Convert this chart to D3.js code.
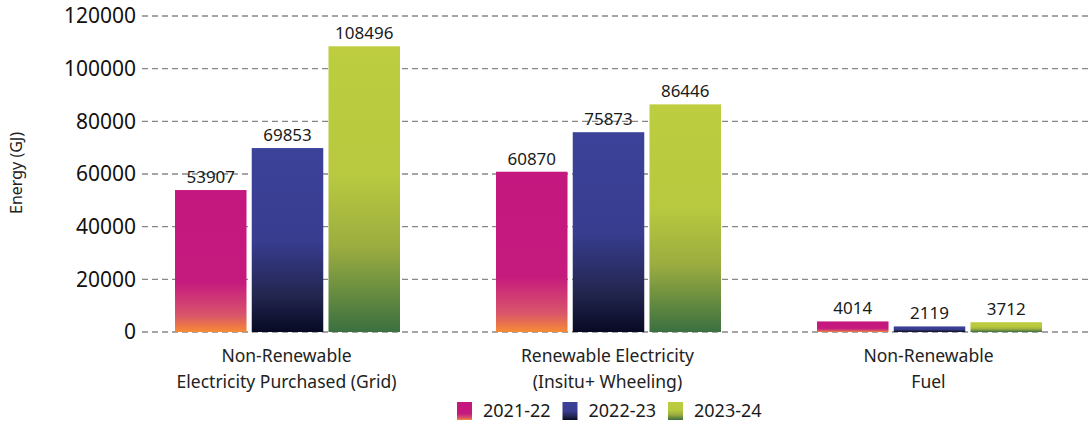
<!DOCTYPE html>
<html>
<head>
<meta charset="utf-8">
<script src="https://cdn.jsdelivr.net/npm/d3@7"></script>
<style>
  body { margin: 0; background: #fff; }
  svg { display: block; font-family: "Noto Sans", sans-serif; }
</style>
</head>
<body>
<div id="chart"></div>
<script>
// data
const categories = [
  "Non-Renewable\nElectricity Purchased (Grid)",
  "Renewable Electricity\n(Insitu+ Wheeling)",
  "Non-Renewable\nFuel"
]
const years = ["2021-22", "2022-23", "2023-24"]
const values2122 = [53907, 60870, 4014]
const values2223 = [69853, 75873, 2119]
const values2324 = [108496, 86446, 3712]
const yTicks = [0, 20000, 40000, 60000, 80000, 100000, 120000]

const series = [values2122, values2223, values2324]

// gradients per year (top -> bottom)
const gradStops = [
  [[0, "#c4177f"], [0.65, "#c51a7e"], [0.88, "#d9546b"], [1, "#f68b35"]],
  [[0, "#3c4299"], [0.5, "#383d90"], [0.8, "#23264f"], [1, "#070924"]],
  [[0, "#bdcd3f"], [0.45, "#b8c940"], [0.7, "#9cad40"], [1, "#3b7040"]]
]

const width = 1092, height = 425
const svg = d3.select("#chart").append("svg")
    .attr("width", width)
    .attr("height", height)

const defs = svg.append("defs")
gradStops.forEach((stops, i) => {
  const g = defs.append("linearGradient")
      .attr("id", "grad" + i)
      .attr("x1", 0).attr("y1", 0).attr("x2", 0).attr("y2", 1)
  stops.forEach(s => g.append("stop").attr("offset", s[0]).attr("stop-color", s[1]))
})

// scales
const y = d3.scaleLinear().domain([0, 120000]).range([332, 16])
const x0 = d3.scaleBand().domain(categories).range([126, 1089]).padding(0)
const x1 = d3.scaleBand().domain(years).range([49, 274]).paddingInner(0.068)

// grid
svg.append("g")
  .selectAll("line")
  .data(yTicks)
  .join("line")
    .attr("x1", 142)
    .attr("x2", width)
    .attr("y1", d => y(d))
    .attr("y2", d => y(d))
    .attr("stroke", "#888")
    .attr("stroke-width", 1.3)
    .attr("stroke-dasharray", "6,4")

// y axis labels
const yAxis = svg.append("g")
    .attr("transform", "translate(136,0)")
    .call(d3.axisLeft(y).tickValues(yTicks).tickSize(0).tickPadding(0).tickFormat(d3.format("d")))
yAxis.select(".domain").remove()
yAxis.selectAll("text")
    .attr("font-family", "Noto Sans")
    .attr("font-size", 21)
    .attr("fill", "#111")

svg.append("text")
    .attr("transform", "translate(22,173) rotate(-90)")
    .attr("text-anchor", "middle")
    .attr("font-size", 16)
    .attr("fill", "#222")
    .text("Energy (GJ)")

// bars
const groups = svg.append("g")
  .selectAll("g")
  .data(categories)
  .join("g")
    .attr("transform", d => `translate(${x0(d)},0)`)

groups.selectAll("rect")
  .data((d, ci) => years.map((yr, yi) => ({ yr, yi, v: series[yi][ci] })))
  .join("rect")
    .attr("x", d => x1(d.yr))
    .attr("width", x1.bandwidth())
    .attr("y", d => y(d.v))
    .attr("height", d => y(0) - y(d.v))
    .attr("fill", d => `url(#grad${d.yi})`)

groups.selectAll("text.val")
  .data((d, ci) => years.map((yr, yi) => ({ yr, yi, v: series[yi][ci] })))
  .join("text")
    .attr("class", "val")
    .attr("x", d => x1(d.yr) + x1.bandwidth() / 2)
    .attr("y", d => y(d.v) - 7)
    .attr("text-anchor", "middle")
    .attr("font-size", 17)
    .attr("fill", "#1a1a1a")
    .text(d => d.v)

// category labels
svg.append("g")
  .selectAll("text")
  .data(categories)
  .join("text")
    .attr("x", d => x0(d) + x0.bandwidth() / 2)
    .attr("y", 362)
    .attr("text-anchor", "middle")
    .attr("font-size", 17.5)
    .attr("fill", "#222")
  .selectAll("tspan")
  .data(d => d.split("\n"))
  .join("tspan")
    .attr("x", function() { return this.parentNode.getAttribute("x") })
    .attr("dy", (d, i) => i === 0 ? 0 : 26)
    .text(d => d)

// legend
const legendX = d3.scalePoint().domain(years).range([457, 668])
const legend = svg.append("g")
  .selectAll("g")
  .data(years)
  .join("g")
    .attr("transform", d => `translate(${legendX(d)},402)`)
legend.append("rect")
    .attr("width", 15)
    .attr("height", 18)
    .attr("fill", (d, i) => `url(#grad${i})`)
legend.append("text")
    .attr("x", 26)
    .attr("y", 15)
    .attr("font-size", 18)
    .attr("fill", "#1a1a1a")
    .text(d => d)
</script>
</body>
</html>
